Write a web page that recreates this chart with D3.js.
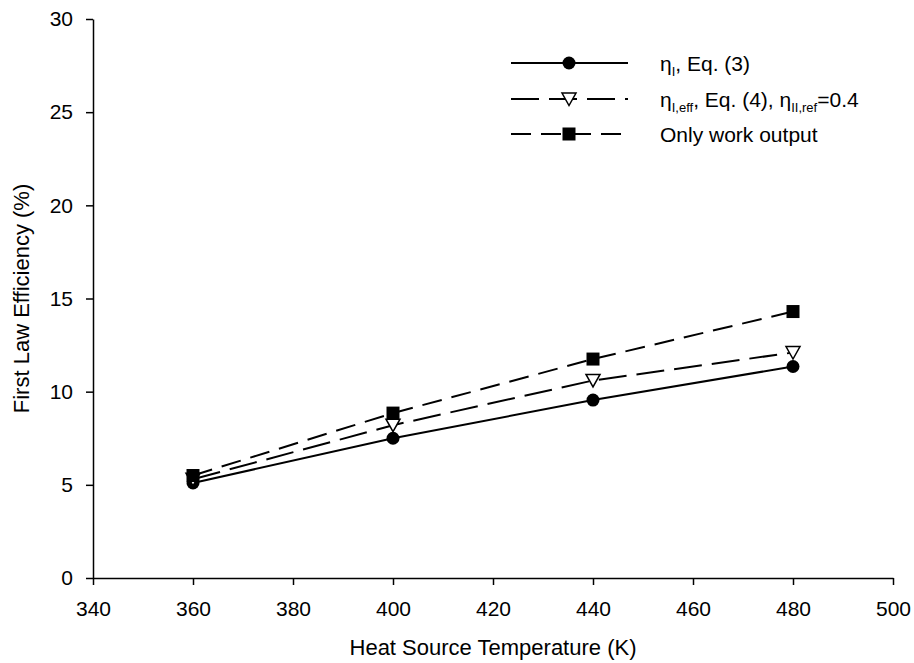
<!DOCTYPE html>
<html lang="en">
<head>
    <meta charset="UTF-8">
    <title>First Law Efficiency vs Heat Source Temperature</title>
    <script src="https://d3js.org/d3.v7.min.js"></script>
    <style>
        body {
            margin: 0;
            background-color: white;
            font-family: "Liberation Sans", Arial, sans-serif;
        }
        .axis line, .axis path {
            stroke: #000;
            stroke-width: 1.5;
        }
    </style>
</head>
<body>
    <svg id="chart" width="914" height="663"></svg>

    <script>
        // Data
        const temps = [360, 400, 440, 480];
        const etaEq3 = [5.1, 7.5, 9.55, 11.35];
        const etaEffEq4 = [5.3, 8.2, 10.6, 12.1];
        const workOnly = [5.5, 8.85, 11.75, 14.3];

        const xTicks = [340, 360, 380, 400, 420, 440, 460, 480, 500];
        const yTicks = [0, 5, 10, 15, 20, 25, 30];

        const seriesList = [
            { values: etaEq3, marker: "circle", dash: null },
            { values: etaEffEq4, marker: "triangle", dash: "28,10" },
            { values: workOnly, marker: "square", dash: "20,10" }
        ];

        const fontSize = "21px";

        const svg = d3.select("#chart");
        const margin = { left: 93, right: 21, top: 19, bottom: 85 };
        const width = 914 - margin.left - margin.right;
        const height = 663 - margin.top - margin.bottom;

        const x = d3.scaleLinear().domain([340, 500]).range([0, width]);
        const y = d3.scaleLinear().domain([0, 30]).range([height, 0]);

        const g = svg.append("g")
            .attr("transform", `translate(${margin.left},${margin.top})`);

        // Axes
        g.append("g")
            .attr("class", "axis")
            .attr("transform", `translate(0,${height})`)
            .call(d3.axisBottom(x).tickValues(xTicks).tickSize(7).tickSizeOuter(0).tickPadding(16))
            .selectAll("text")
            .style("font-size", fontSize)
            .style("font-family", "'Liberation Sans', Arial, sans-serif")
            .attr("fill", "#000");

        g.append("g")
            .attr("class", "axis")
            .call(d3.axisLeft(y).tickValues(yTicks).tickSize(7).tickSizeOuter(0).tickPadding(13))
            .selectAll("text")
            .style("font-size", fontSize)
            .style("font-family", "'Liberation Sans', Arial, sans-serif")
            .attr("fill", "#000");

        // Axis titles
        svg.append("text")
            .attr("x", margin.left + width / 2)
            .attr("y", 655)
            .attr("text-anchor", "middle")
            .style("font-size", "22px")
            .text("Heat Source Temperature (K)");

        svg.append("text")
            .attr("transform", `translate(29,${margin.top + height / 2}) rotate(-90)`)
            .attr("text-anchor", "middle")
            .style("font-size", "22px")
            .text("First Law Efficiency (%)");

        const line = d3.line()
            .x((d, i) => x(temps[i]))
            .y(d => y(d));

        function drawMarker(sel, type, cx, cy) {
            if (type === "circle") {
                sel.append("circle")
                    .attr("cx", cx).attr("cy", cy).attr("r", 6.5)
                    .attr("fill", "#000");
            } else if (type === "square") {
                sel.append("rect")
                    .attr("x", cx - 6.5).attr("y", cy - 6.5)
                    .attr("width", 13).attr("height", 13)
                    .attr("fill", "#000");
            } else {
                sel.append("path")
                    .attr("d", `M${cx - 7},${cy - 6} L${cx + 7},${cy - 6} L${cx},${cy + 6.5} Z`)
                    .attr("fill", "#fff")
                    .attr("stroke", "#000")
                    .attr("stroke-width", 1.5);
            }
        }

        // Lines then markers
        seriesList.forEach(s => {
            g.append("path")
                .datum(s.values)
                .attr("d", line)
                .attr("fill", "none")
                .attr("stroke", "#000")
                .attr("stroke-width", 2)
                .attr("stroke-dasharray", s.dash);
        });
        seriesList.forEach(s => {
            s.values.forEach((v, i) => drawMarker(g, s.marker, x(temps[i]), y(v)));
        });

        // Legend
        const legend = svg.append("g");
        const legendY = [63, 99, 134];
        seriesList.forEach((s, i) => {
            legend.append("line")
                .attr("x1", 511).attr("x2", 628)
                .attr("y1", legendY[i]).attr("y2", legendY[i])
                .attr("stroke", "#000")
                .attr("stroke-width", 2)
                .attr("stroke-dasharray", s.dash);
            drawMarker(legend, s.marker, 569, legendY[i]);
        });

        function legendText(yPos, parts) {
            const t = legend.append("text")
                .attr("x", 660)
                .attr("y", yPos + 8)
                .style("font-size", "21px");
            parts.forEach(p => {
                const ts = t.append("tspan").text(p.text);
                if (p.sub) {
                    ts.attr("dy", 5).style("font-size", "13px");
                } else if (p.back) {
                    ts.attr("dy", -5);
                }
            });
        }

        legendText(legendY[0], [
            { text: "η" }, { text: "I", sub: true }, { text: ", Eq. (3)", back: true }
        ]);
        legendText(legendY[1], [
            { text: "η" }, { text: "I,eff", sub: true }, { text: ", Eq. (4), η", back: true },
            { text: "II,ref", sub: true }, { text: "=0.4", back: true }
        ]);
        legendText(legendY[2], [{ text: "Only work output" }]);
    </script>
</body>
</html>
